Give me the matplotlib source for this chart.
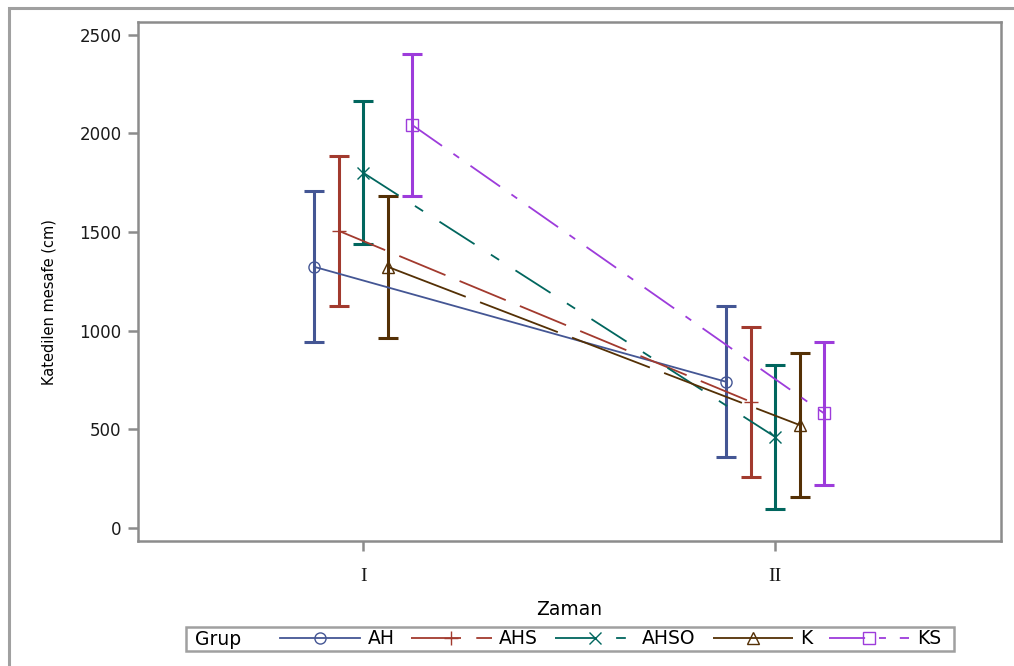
import numpy as np
import matplotlib
matplotlib.use('Agg')
import matplotlib.pyplot as plt
from matplotlib.patches import Rectangle

# Ortalama katedilen mesafe (cm) ve standart hata, iki zaman noktasi
groups = ['AH', 'AHS', 'AHSO', 'K', 'KS']
times = ['I', 'II']
mean_I = [1323, 1505, 1799, 1323, 2041]
mean_II = [741, 640, 462, 522, 581]
err_I = [382, 381, 362, 361, 361]
err_II = [383, 381, 364, 365, 363]

colors = ['#445694', '#A23A2E', '#01665E', '#543005', '#9D3CDB']
styles = ['-', (0, (36, 11)), (0, (30, 14, 7, 14)), (0, (60, 11)), (0, (26, 10, 5, 10))]
markers = ['o', '+', 'x', '^', 's']
msizes = [8, 10, 9, 8, 8]

plt.rcParams['lines.scale_dashes'] = False
plt.rcParams['font.family'] = 'DejaVu Sans'

W, H = 1014, 666
fig = plt.figure(figsize=(W / 100, H / 100), dpi=100)
ax = fig.add_axes([138.3 / W, 1 - 541.3 / H, 862.4 / W, 519 / H])

x = np.arange(1, len(times) + 1)
step = 0.0595
for i, g in enumerate(groups):
    xs = x + (i - 2) * step
    m = [mean_I[i], mean_II[i]]
    e = [err_I[i], err_II[i]]
    c = colors[i]
    ax.errorbar(xs, m, yerr=e, fmt='none', ecolor=c, elinewidth=2.2,
                capsize=7.5, capthick=2.2, zorder=2)
    ax.plot(xs, m, color=c, lw=1.3, ls=styles[i], marker=markers[i],
            ms=msizes[i], mfc='none', mec=c, mew=1.0, label=g, zorder=3)

ax.set_xlim(0.453, 2.548)
ax.set_ylim(-67, 2562)
ax.set_xticks(x)
ax.set_xticklabels(times, fontfamily='Liberation Serif', fontsize=14)
ax.set_yticks(np.arange(0, 2501, 500))

for s in ax.spines.values():
    s.set_color('#8c8c8c')
    s.set_linewidth(1.8)
ax.tick_params(axis='both', color='#8c8c8c', width=1.8, length=7,
               labelcolor='#1a1a1a')
ax.tick_params(axis='y', labelsize=12, pad=5)
ax.tick_params(axis='x', pad=12)

ax.set_ylabel('Katedilen mesafe (cm)', fontsize=10.5)
ax.yaxis.set_label_coords(-0.0954, 0.461)
ax.set_xlabel('Zaman', fontsize=13.5)
ax.xaxis.set_label_coords(0.5, -0.114)

# alt kisimdaki lejant: kutu, "Grup" basligi ve seriler
fig.add_artist(Rectangle((186 / W, 1 - 651 / H), (954 - 186) / W, 24 / H,
                         transform=fig.transFigure, fill=False,
                         ec='#a0a0a0', lw=1.8))
fig.text(195 / W, 1 - 645 / H, 'Grup', fontsize=13.5, va='baseline')
fig.legend(loc='center left', bbox_to_anchor=(280 / W, 1 - 639 / H),
           ncol=5, frameon=False, fontsize=13.5, borderpad=0,
           borderaxespad=0, handlelength=4.27, handletextpad=0.4,
           columnspacing=0.9, numpoints=1)

# dis cerceve
fig.add_artist(Rectangle((9 / W, -0.1), 1.2, (H - 7.5) / H + 0.1,
                         transform=fig.transFigure, fill=False,
                         ec='#a0a0a0', lw=2.2))

fig.savefig('out.png', dpi=100)
